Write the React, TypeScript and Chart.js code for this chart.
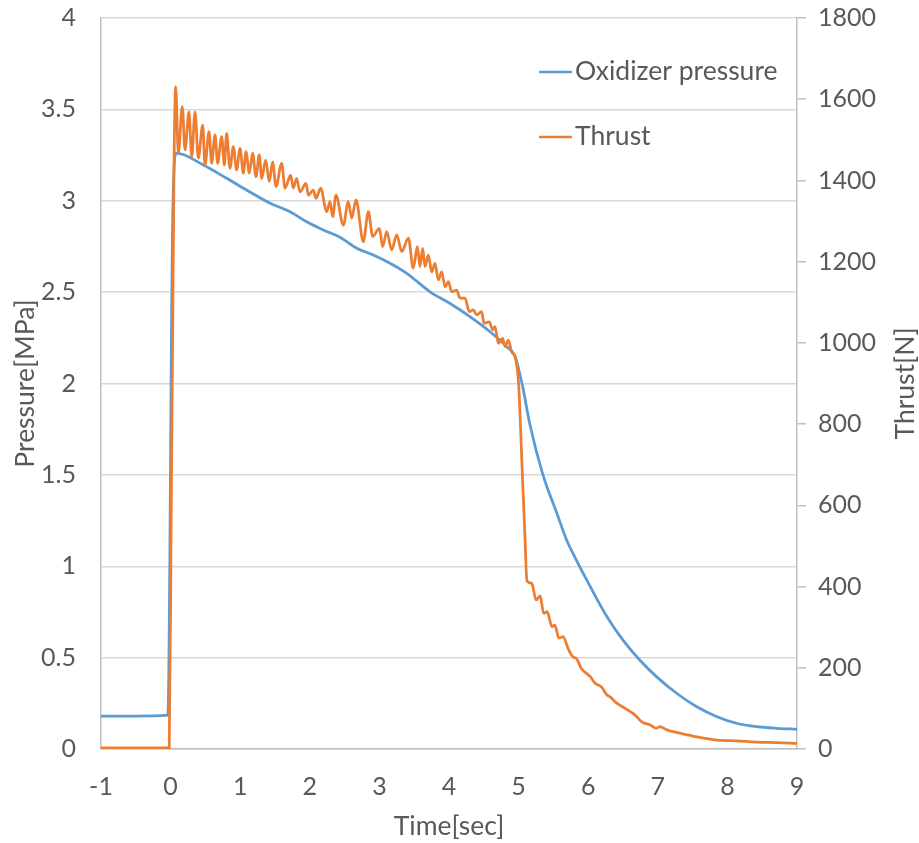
import React, { useEffect, useRef } from "react";
import { Chart, registerables } from "chart.js";

Chart.register(...registerables);

// ---- Data ----
const seriesLabels = ["Oxidizer pressure", "Thrust"];
const axisTitles = { x: "Time[sec]", left: "Pressure[MPa]", right: "Thrust[N]" };

const timeRange = [-1, 9];
const pressureRange = [0, 4];
const thrustRange = [0, 1800];
const timeStep = 1;
const pressureStep = 0.5;
const thrustStep = 200;

const pressureTime = [
  -1.0, -0.5, -0.04, 0.03, 0.08, 0.47, 0.805, 1.09, 1.43, 1.716, 1.955, 2.194, 2.434, 2.674,
  2.912, 3.152, 3.392, 3.727, 4.01, 4.3, 4.59, 4.83, 4.95, 5.06, 5.16, 5.35, 5.55, 5.69, 5.83,
  6.03, 6.27, 6.5, 6.74, 6.98, 7.27, 7.56, 7.85, 8.13, 8.42, 8.71, 9.0,
];
const pressureValues = [
  0.18, 0.18, 0.185, 2.9, 3.26, 3.196, 3.123, 3.059, 2.986, 2.94, 2.885, 2.84, 2.8, 2.74,
  2.703, 2.658, 2.603, 2.502, 2.439, 2.366, 2.283, 2.201, 2.147, 1.98, 1.78, 1.5, 1.29, 1.144,
  1.034, 0.888, 0.724, 0.596, 0.487, 0.396, 0.305, 0.231, 0.177, 0.141, 0.122, 0.113, 0.108,
];

const thrustTime = [
  -1.0, -0.5, -0.02, 0.01, 0.05, 0.073, 0.111, 0.168, 0.207, 0.264, 0.303, 0.351, 0.398, 0.461,
  0.494, 0.552, 0.59, 0.638, 0.676, 0.734, 0.772, 0.805, 0.853, 0.901, 0.949, 0.997, 1.045,
  1.083, 1.131, 1.179, 1.227, 1.274, 1.309, 1.366, 1.418, 1.466, 1.514, 1.596, 1.644, 1.725,
  1.763, 1.811, 1.859, 1.945, 1.979, 2.051, 2.089, 2.156, 2.243, 2.29, 2.329, 2.376, 2.481,
  2.553, 2.602, 2.664, 2.769, 2.841, 2.904, 3.0, 3.047, 3.105, 3.177, 3.249, 3.321, 3.416,
  3.487, 3.545, 3.583, 3.622, 3.655, 3.703, 3.751, 3.799, 3.847, 3.895, 3.943, 3.991, 4.039,
  4.11, 4.158, 4.23, 4.292, 4.349, 4.398, 4.47, 4.503, 4.579, 4.628, 4.661, 4.708, 4.771,
  4.805, 4.852, 4.901, 4.95, 5.0, 5.05, 5.09, 5.12, 5.19, 5.25, 5.31, 5.36, 5.41, 5.48, 5.52,
  5.58, 5.64, 5.71, 5.78, 5.83, 5.9, 6.03, 6.1, 6.19, 6.27, 6.31, 6.41, 6.53, 6.67, 6.77,
  6.89, 6.98, 7.03, 7.13, 7.32, 7.56, 7.85, 8.13, 8.42, 8.71, 9.0,
];
const thrustValues = [
  3, 3, 3, 600, 1450, 1631, 1467, 1582, 1475, 1569, 1458, 1569, 1455, 1536,
  1438, 1520, 1442, 1512, 1442, 1508, 1438, 1516, 1430, 1483, 1426, 1479, 1418,
  1471, 1418, 1467, 1409, 1463, 1405, 1450, 1397, 1446, 1385, 1442, 1381, 1413,
  1381, 1405, 1372, 1393, 1364, 1376, 1356, 1381, 1323, 1348, 1311, 1364, 1290,
  1348, 1307, 1352, 1249, 1323, 1262, 1282, 1237, 1274, 1229, 1266, 1225, 1258,
  1184, 1237, 1188, 1233, 1188, 1216, 1175, 1196, 1155, 1175, 1138, 1151, 1126,
  1130, 1110, 1110, 1077, 1081, 1069, 1077, 1048, 1052, 1032, 1040, 999, 1011,
  991, 1007, 978, 966, 900, 695, 530, 414, 408, 367, 377, 334, 338, 301, 305,
  273, 277, 248, 227, 223, 199, 178, 162, 153, 133, 129, 113, 100, 84, 67,
  59, 51, 55, 47, 39, 30, 22, 20, 17, 16, 14,
];

// ---- Styles ----
const BLUE = "#5B9BD5";
const ORANGE = "#ED7D31";
const TEXT = "#595959";
const GRID = "#D9D9D9";
const AXIS = "#BFBFBF";
const FONT_FAMILY = "Lato, 'Open Sans', sans-serif";
const TICK_SIZE = 25;
const LABEL_SIZE = 26.5;
const LINE_WIDTH = 2.75;

const overlayPlugin = {
  id: "overlayLegendAndRightTitle",
  afterDraw(chart: any) {
    const ctx = chart.ctx as CanvasRenderingContext2D;
    ctx.save();
    ctx.font = `${LABEL_SIZE}px ${FONT_FAMILY}`;
    ctx.textBaseline = "middle";
    ctx.textAlign = "left";
    chart.data.datasets.forEach((ds: any, i: number) => {
      const y = 72 + i * 65;
      ctx.strokeStyle = ds.borderColor;
      ctx.lineWidth = 2.5;
      ctx.beginPath();
      ctx.moveTo(539, y);
      ctx.lineTo(572, y);
      ctx.stroke();
      ctx.fillStyle = TEXT;
      ctx.fillText(ds.label, 575, y - 1);
    });
    // right axis title, reading bottom-to-top
    const area = chart.chartArea;
    ctx.translate(905, (area.top + area.bottom) / 2);
    ctx.rotate(-Math.PI / 2);
    ctx.textAlign = "center";
    ctx.fillStyle = TEXT;
    ctx.fillText(axisTitles.right, 0, 0);
    ctx.restore();
  },
};

const plainLabel = (v: any) => `${v}`;

export default function App() {
  const canvasRef = useRef<HTMLCanvasElement | null>(null);

  useEffect(() => {
    const canvas = canvasRef.current;
    if (!canvas) return;
    const pressureData = pressureTime.map((t, i) => ({ x: t, y: pressureValues[i] }));
    const thrustData = thrustTime.map((t, i) => ({ x: t, y: thrustValues[i] }));
    const tickFont = { family: FONT_FAMILY, size: TICK_SIZE, lineHeight: 1 };
    const titleFont = { family: FONT_FAMILY, size: LABEL_SIZE, lineHeight: 1 };

    const chart = new Chart(canvas, {
      type: "line",
      data: {
        datasets: [
          {
            label: seriesLabels[0],
            data: pressureData,
            borderColor: BLUE,
            backgroundColor: BLUE,
            borderWidth: LINE_WIDTH,
            pointRadius: 0,
            cubicInterpolationMode: "monotone",
            yAxisID: "y",
            order: 1,
          },
          {
            label: seriesLabels[1],
            data: thrustData,
            borderColor: ORANGE,
            backgroundColor: ORANGE,
            borderWidth: LINE_WIDTH,
            pointRadius: 0,
            cubicInterpolationMode: "monotone",
            yAxisID: "y1",
            order: 0,
          },
        ],
      },
      options: {
        responsive: false,
        animation: false,
        devicePixelRatio: 1,
        layout: { padding: { top: 18, left: 0, right: 0, bottom: 0 } },
        plugins: {
          legend: { display: false },
          tooltip: { enabled: false },
        },
        scales: {
          x: {
            type: "linear",
            position: "bottom",
            min: timeRange[0],
            max: timeRange[1],
            ticks: { stepSize: timeStep, color: TEXT, font: tickFont, padding: 25, callback: plainLabel },
            grid: { display: false, drawTicks: false },
            border: { display: true, color: AXIS, width: 1.5 },
            title: {
              display: true,
              text: axisTitles.x,
              color: TEXT,
              font: titleFont,
              padding: { top: 0, bottom: 3 },
            },
            afterFit: (scale: any) => {
              scale.height = 94;
              scale.paddingLeft = 0;
              scale.paddingRight = 0;
            },
          },
          y: {
            type: "linear",
            position: "left",
            min: pressureRange[0],
            max: pressureRange[1],
            ticks: { stepSize: pressureStep, color: TEXT, font: tickFont, padding: 25, callback: plainLabel },
            grid: { color: GRID, lineWidth: 1.5, drawTicks: false },
            border: { display: true, color: AXIS, width: 1.5 },
            title: {
              display: true,
              text: axisTitles.left,
              color: TEXT,
              font: titleFont,
              padding: { top: 12, bottom: 0 },
            },
            afterFit: (scale: any) => {
              scale.width = 101;
              scale.paddingTop = 0;
              scale.paddingBottom = 0;
            },
          },
          y1: {
            type: "linear",
            position: "right",
            min: thrustRange[0],
            max: thrustRange[1],
            ticks: { stepSize: thrustStep, color: TEXT, font: tickFont, padding: 12, callback: plainLabel },
            grid: {
              drawOnChartArea: false,
              drawTicks: true,
              tickLength: 9,
              color: AXIS,
              lineWidth: 1.5,
            },
            border: { display: true, color: AXIS, width: 1.5 },
            afterFit: (scale: any) => {
              scale.width = 122;
              scale.paddingTop = 0;
              scale.paddingBottom = 0;
            },
          },
        },
      },
      plugins: [overlayPlugin],
    } as any);

    return () => chart.destroy();
  }, []);

  return (
    <div style={{ position: "absolute", left: 0, top: 0, width: 919, height: 843, background: "#fff" }}>
      <canvas ref={canvasRef} width={919} height={843} style={{ display: "block" }} />
    </div>
  );
}
